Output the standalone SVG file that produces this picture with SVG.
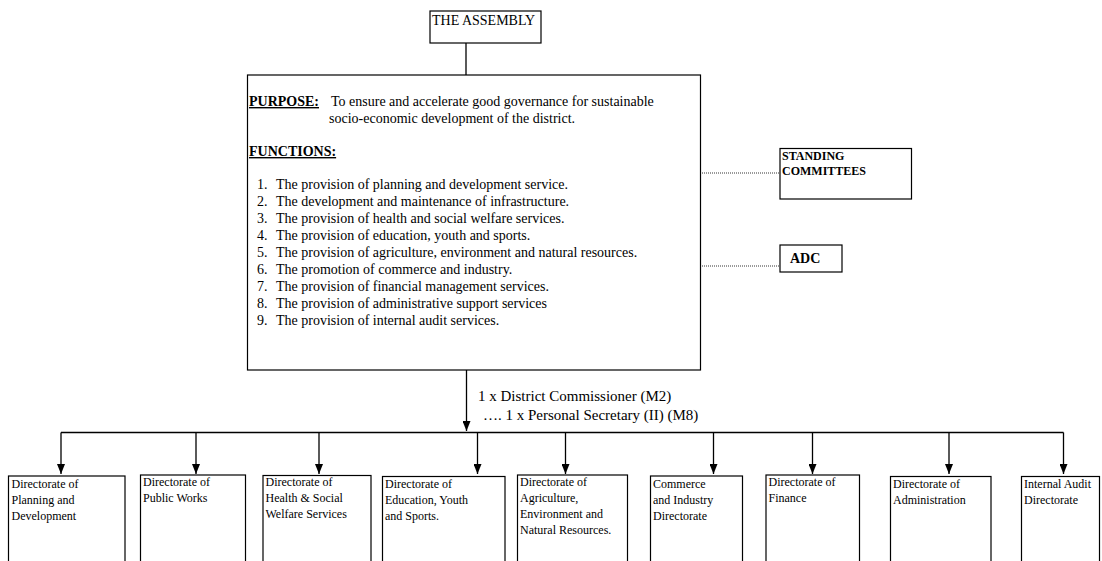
<svg xmlns="http://www.w3.org/2000/svg" width="1102" height="561" viewBox="0 0 1102 561">
<style>
  .box { fill: #fff; stroke: #000; stroke-width: 1.2; }
  .ln { fill: none; stroke: #000; stroke-width: 1.3; }
  .dot { fill: none; stroke: #000; stroke-width: 0.8; stroke-dasharray: 1 1; }
  text { font-family: "Liberation Serif", "Times New Roman", serif; fill: #000; }
  .t14 { font-size: 14px; }
  .b14 { font-size: 14px; font-weight: bold; }
  .b12 { font-size: 12px; font-weight: bold; }
  .t15 { font-size: 15px; }
  .t12 { font-size: 12px; }
</style>
<defs>
  <marker id="ah" markerWidth="10" markerHeight="8" refX="10" refY="4" orient="auto" markerUnits="userSpaceOnUse">
    <path d="M0,0 L10,4 L0,8 z" fill="#000"/>
  </marker>
</defs>
<rect width="1102" height="561" fill="#fff"/>

<g id="connectors">
  <line class="ln" x1="466" y1="43" x2="466" y2="75"/>
  <line class="dot" x1="700" y1="173" x2="780" y2="173"/>
  <line class="dot" x1="700" y1="266" x2="780" y2="266"/>
  <line class="ln" x1="466.5" y1="370" x2="466.5" y2="431" marker-end="url(#ah)"/>
  <line class="ln" x1="61" y1="432.5" x2="1063.5" y2="432.5"/>
  <line class="ln" x1="61" y1="432.5" x2="61" y2="474" marker-end="url(#ah)"/>
  <line class="ln" x1="196" y1="432.5" x2="196" y2="474" marker-end="url(#ah)"/>
  <line class="ln" x1="319" y1="432.5" x2="319" y2="474" marker-end="url(#ah)"/>
  <line class="ln" x1="477.5" y1="432.5" x2="477.5" y2="474" marker-end="url(#ah)"/>
  <line class="ln" x1="565.5" y1="432.5" x2="565.5" y2="474" marker-end="url(#ah)"/>
  <line class="ln" x1="713.5" y1="432.5" x2="713.5" y2="474" marker-end="url(#ah)"/>
  <line class="ln" x1="812.5" y1="432.5" x2="812.5" y2="474" marker-end="url(#ah)"/>
  <line class="ln" x1="949" y1="432.5" x2="949" y2="474" marker-end="url(#ah)"/>
  <line class="ln" x1="1063.5" y1="432.5" x2="1063.5" y2="474" marker-end="url(#ah)"/>
</g>

<g id="assembly">
  <rect class="box" x="430" y="11" width="111" height="32"/>
  <text class="t14" x="432" y="25">THE ASSEMBLY</text>
</g>

<g id="main">
  <rect class="box" x="247.5" y="75" width="453" height="295"/>
  <text class="b14" x="249" y="106" text-decoration="underline">PURPOSE:</text>
  <text class="t14" x="331" y="106">To ensure and accelerate good governance for sustainable</text>
  <text class="t14" x="329" y="123">socio-economic development of the district.</text>
  <text class="b14" x="249" y="156" text-decoration="underline">FUNCTIONS:</text>
  <g class="t14">
    <text x="257" y="189">1.</text><text x="276" y="189">The provision of planning and development service.</text>
    <text x="257" y="206">2.</text><text x="276" y="206">The development and maintenance of infrastructure.</text>
    <text x="257" y="223">3.</text><text x="276" y="223">The provision of health and social welfare services.</text>
    <text x="257" y="240">4.</text><text x="276" y="240">The provision of education, youth and sports.</text>
    <text x="257" y="257">5.</text><text x="276" y="257">The provision of agriculture, environment and natural resources.</text>
    <text x="257" y="274">6.</text><text x="276" y="274">The promotion of commerce and industry.</text>
    <text x="257" y="291">7.</text><text x="276" y="291">The provision of financial management services.</text>
    <text x="257" y="308">8.</text><text x="276" y="308">The provision of administrative support services</text>
    <text x="257" y="325">9.</text><text x="276" y="325">The provision of internal audit services.</text>
  </g>
</g>

<g id="standing">
  <rect class="box" x="780" y="148.5" width="131.5" height="50.5"/>
  <text class="b12" x="782" y="160">STANDING</text>
  <text class="b12" x="782" y="175">COMMITTEES</text>
</g>

<g id="adc">
  <rect class="box" x="780" y="245" width="62" height="27"/>
  <text class="b14" x="790" y="263">ADC</text>
</g>

<g id="dc-label">
  <text class="t15" x="478" y="401">1 x District Commissioner (M2)</text>
  <text class="t15" x="483" y="420">….  1 x Personal Secretary (II) (M8)</text>
</g>

<g id="dir1">
  <rect class="box" x="8.5" y="476" width="116.5" height="100"/>
  <text class="t12" x="11.5" y="488">Directorate of</text>
  <text class="t12" x="11.5" y="504">Planning and</text>
  <text class="t12" x="11.5" y="520">Development</text>
</g>
<g id="dir2">
  <rect class="box" x="140.5" y="475" width="105" height="100"/>
  <text class="t12" x="143" y="486">Directorate of</text>
  <text class="t12" x="143" y="502">Public Works</text>
</g>
<g id="dir3">
  <rect class="box" x="263" y="475.5" width="108" height="100"/>
  <text class="t12" x="265.5" y="486">Directorate of</text>
  <text class="t12" x="265.5" y="502">Health &amp; Social</text>
  <text class="t12" x="265.5" y="518">Welfare Services</text>
</g>
<g id="dir4">
  <rect class="box" x="382.5" y="476.5" width="122.5" height="100"/>
  <text class="t12" x="385" y="488">Directorate of</text>
  <text class="t12" x="385" y="504">Education, Youth</text>
  <text class="t12" x="385" y="520">and Sports.</text>
</g>
<g id="dir5">
  <rect class="box" x="517.5" y="475" width="110" height="100"/>
  <text class="t12" x="520" y="486">Directorate of</text>
  <text class="t12" x="520" y="502">Agriculture,</text>
  <text class="t12" x="520" y="518">Environment and</text>
  <text class="t12" x="520" y="534">Natural Resources.</text>
</g>
<g id="dir6">
  <rect class="box" x="650.5" y="476" width="92" height="100"/>
  <text class="t12" x="653" y="488">Commerce</text>
  <text class="t12" x="653" y="504">and Industry</text>
  <text class="t12" x="653" y="520">Directorate</text>
</g>
<g id="dir7">
  <rect class="box" x="766" y="475" width="93.5" height="100"/>
  <text class="t12" x="768.5" y="486">Directorate of</text>
  <text class="t12" x="768.5" y="502">Finance</text>
</g>
<g id="dir8">
  <rect class="box" x="890.5" y="476.5" width="100.5" height="100"/>
  <text class="t12" x="893" y="488">Directorate of</text>
  <text class="t12" x="893" y="504">Administration</text>
</g>
<g id="dir9">
  <rect class="box" x="1021.5" y="476.5" width="78" height="100"/>
  <text class="t12" x="1024" y="488">Internal Audit</text>
  <text class="t12" x="1024" y="504">Directorate</text>
</g>
</svg>
